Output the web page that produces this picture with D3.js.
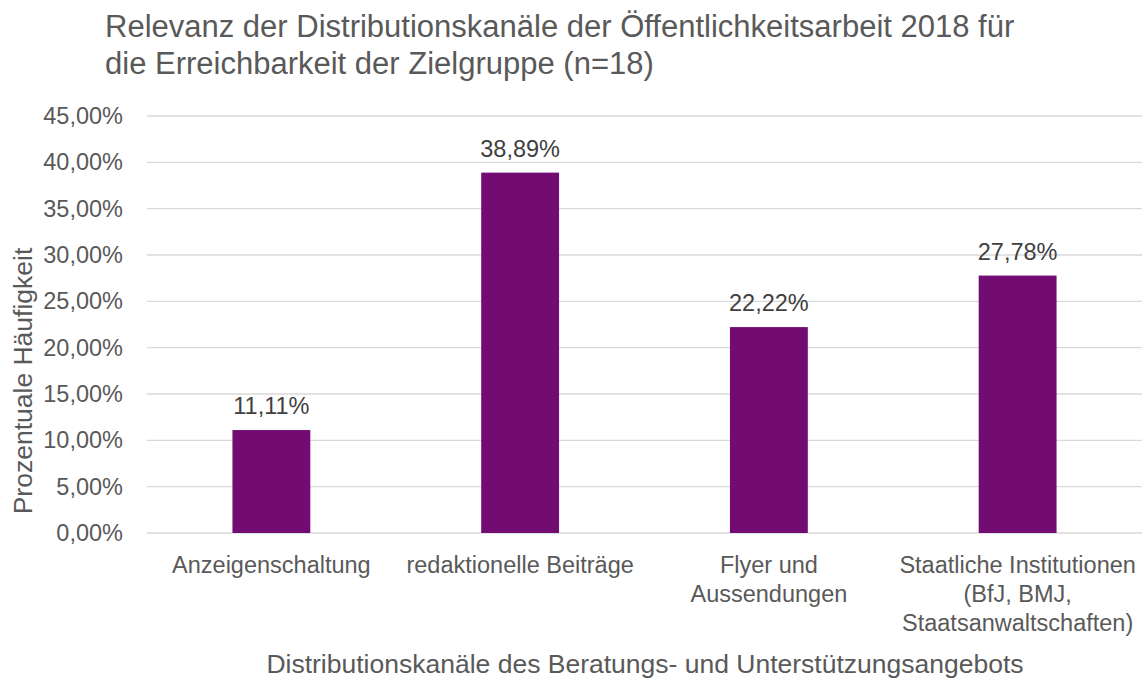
<!DOCTYPE html>
<html>
<head>
<meta charset="utf-8">
<script src="https://cdn.jsdelivr.net/npm/d3@7"></script>
<style>
	body { margin: 0; background: #fff; }
	text { font-family: "Liberation Sans", Arial, sans-serif; }
</style>
</head>
<body>
<div id="chart"></div>
<script>
const categories = [
	["Anzeigenschaltung"],
	["redaktionelle Beiträge"],
	["Flyer und", "Aussendungen"],
	["Staatliche Institutionen", "(BfJ, BMJ,", "Staatsanwaltschaften)"]
];
const values = [11.11, 38.89, 22.22, 27.78];
const yTicks = [0, 5, 10, 15, 20, 25, 30, 35, 40, 45];
const titleLines = [
	"Relevanz der Distributionskanäle der Öffentlichkeitsarbeit 2018 für",
	"die Erreichbarkeit der Zielgruppe (n=18)"
];
const xTitle = "Distributionskanäle des Beratungs- und Unterstützungsangebots";
const yTitle = "Prozentuale Häufigkeit";

const width = 1145, height = 678;
const plotLeft = 147, plotRight = 1142, plotTop = 116, plotBottom = 533;

const fmt = v => v.toFixed(2).replace(".", ",") + "%";

const svg = d3.select("#chart").append("svg")
	.attr("width", width)
	.attr("height", height);

const x = d3.scaleBand()
	.domain(d3.range(categories.length))
	.range([plotLeft, plotRight])
	.paddingInner(0.687)
	.paddingOuter(0.3435);

const y = d3.scaleLinear()
	.domain([0, 45])
	.range([plotBottom, plotTop]);

// gridlines
svg.append("g")
	.selectAll("line")
	.data(yTicks)
	.join("line")
	.attr("x1", plotLeft)
	.attr("x2", plotRight)
	.attr("y1", d => y(d))
	.attr("y2", d => y(d))
	.attr("stroke", "#d9d9d9")
	.attr("stroke-width", 1.3);

// y axis labels
const yAxis = d3.axisLeft(y)
	.tickValues(yTicks)
	.tickFormat(fmt)
	.tickSize(0)
	.tickPadding(24);

svg.append("g")
	.attr("transform", "translate(" + plotLeft + ",0)")
	.call(yAxis)
	.call(g => g.select(".domain").remove())
	.call(g => g.selectAll("text")
		.attr("font-size", 23.5)
		.attr("fill", "#595959"));

// bars
svg.append("g")
	.selectAll("rect")
	.data(values)
	.join("rect")
	.attr("x", (d, i) => x(i))
	.attr("width", x.bandwidth())
	.attr("y", d => y(d))
	.attr("height", d => y(0) - y(d))
	.attr("fill", "#720c72");

// value labels
svg.append("g")
	.selectAll("text")
	.data(values)
	.join("text")
	.attr("x", (d, i) => x(i) + x.bandwidth() / 2)
	.attr("y", d => y(d) - 16)
	.attr("text-anchor", "middle")
	.attr("font-size", 23.5)
	.attr("fill", "#404040")
	.text(fmt);

// category labels
const cat = svg.append("g")
	.selectAll("text")
	.data(categories)
	.join("text")
	.attr("text-anchor", "middle")
	.attr("font-size", 23.5)
	.attr("fill", "#595959")
	.attr("transform", (d, i) => "translate(" + (x(i) + x.bandwidth() / 2) + ",573)");

cat.selectAll("tspan")
	.data(d => d)
	.join("tspan")
	.attr("x", 0)
	.attr("y", (d, i) => i * 29)
	.text(d => d);

// title
svg.append("g")
	.selectAll("text")
	.data(titleLines)
	.join("text")
	.attr("x", 105)
	.attr("y", (d, i) => 37 + i * 37)
	.attr("font-size", 31)
	.attr("fill", "#595959")
	.text(d => d);

// axis titles
svg.append("text")
	.attr("x", 645)
	.attr("y", 673)
	.attr("text-anchor", "middle")
	.attr("font-size", 26.5)
	.attr("fill", "#595959")
	.text(xTitle);

svg.append("text")
	.attr("transform", "translate(32,381) rotate(-90)")
	.attr("text-anchor", "middle")
	.attr("font-size", 26.5)
	.attr("fill", "#595959")
	.text(yTitle);
</script>
</body>
</html>
